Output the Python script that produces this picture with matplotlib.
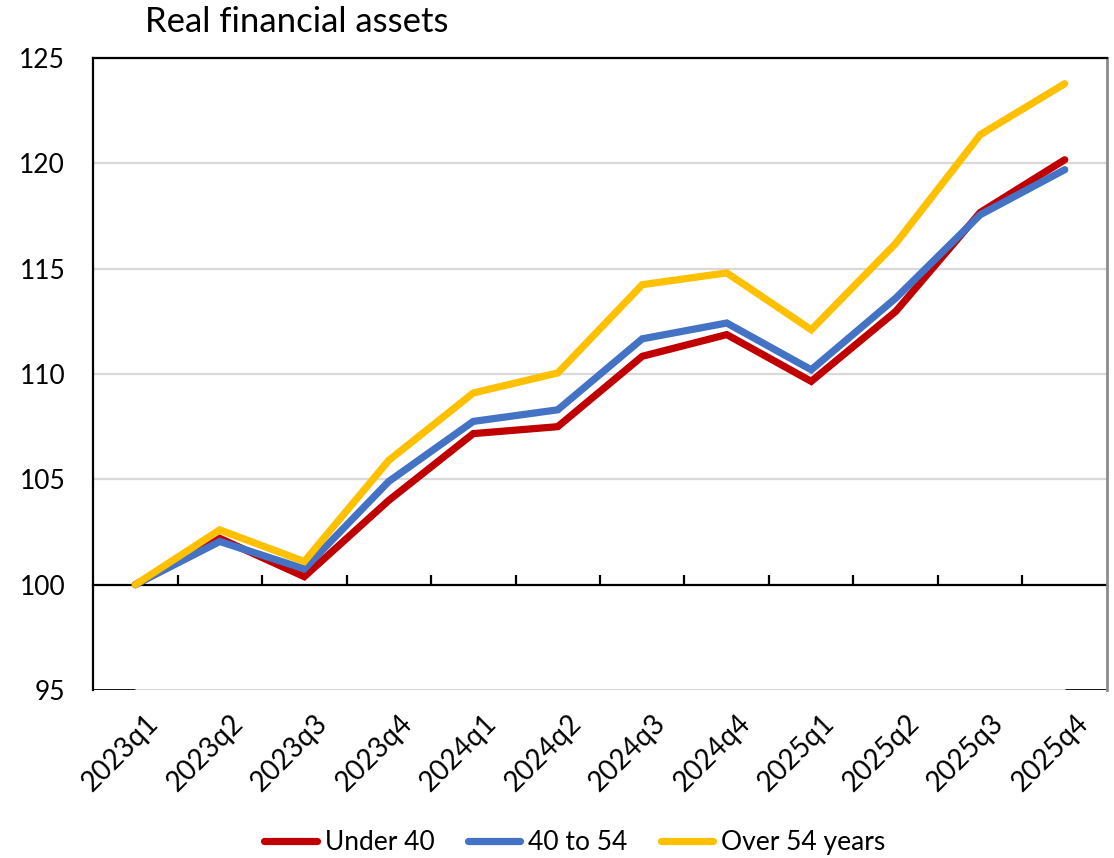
import numpy as np
import matplotlib
matplotlib.use("Agg")
import matplotlib.pyplot as plt
import matplotlib.transforms as mtransforms

plt.rcParams['font.family'] = ['Lato', 'DejaVu Sans']

# ---- data (index, 2023q1 = 100) ----
quarters = ['2023q1', '2023q2', '2023q3', '2023q4',
            '2024q1', '2024q2', '2024q3', '2024q4',
            '2025q1', '2025q2', '2025q3', '2025q4']
under_40 = [100.0, 102.2, 100.38, 104.0, 107.17, 107.5, 110.84, 111.87, 109.65, 112.97, 117.67, 120.17]
from_40_to_54 = [100.0, 102.05, 100.75, 104.9, 107.75, 108.3, 111.67, 112.42, 110.2, 113.6, 117.56, 119.7]
over_54 = [100.0, 102.6, 101.1, 105.9, 109.1, 110.05, 114.24, 114.8, 112.1, 116.2, 121.36, 123.78]
y_ticks = [95, 100, 105, 110, 115, 120, 125]

series = [
    ('Under 40', under_40, '#C00000'),
    ('40 to 54', from_40_to_54, '#4472C4'),
    ('Over 54 years', over_54, '#FFC000'),
]

fig = plt.figure(figsize=(11.14, 8.58), dpi=100)
ax = fig.add_axes([0.0835, 0.1958, 0.9102, 0.7366])

x = np.arange(len(quarters))
ax.set_xlim(-0.5, len(quarters) - 0.5)
ax.set_ylim(95, 125)

# gridlines (skip the 100 axis line)
for yv in y_ticks[2:]:
    ax.axhline(yv, color='#d9d9d9', linewidth=1.6, zorder=0)

# bottom edge: grey between first and last category, black at the ends
ax.hlines(95, 0, len(quarters) - 1, color='#c8c8c8', linewidth=1.8, zorder=1)
ax.hlines(95, -0.5, 0, color='black', linewidth=2.0, zorder=1)
ax.hlines(95, len(quarters) - 1, len(quarters) - 0.5, color='black', linewidth=2.0, zorder=1)

for name, vals, col in series:
    ax.plot(x, vals, color=col, linewidth=5.2, label=name,
            solid_capstyle='round', solid_joinstyle='miter', zorder=3)

# category axis crossing at 100
ax.spines['bottom'].set_position(('data', 100))
ax.spines['bottom'].set_linewidth(1.6)
ax.spines['bottom'].set_zorder(2)
ax.set_xticks(np.arange(0.5, len(quarters) - 0.5, 1.0))
ax.tick_params(axis='x', direction='in', length=7, width=1.6, labelbottom=False)

ax.spines['left'].set_linewidth(1.6)
ax.spines['top'].set_linewidth(1.6)
ax.spines['right'].set_color('#8c8c8c')
ax.spines['right'].set_linewidth(2.0)

ax.set_yticks(y_ticks)
ax.set_yticklabels([str(v) for v in y_ticks])
ax.tick_params(axis='y', length=0, pad=20, labelsize=19)

# rotated category labels at the bottom of the plot area
trans = mtransforms.blended_transform_factory(ax.transData, ax.transAxes)
offset = mtransforms.ScaledTranslation(0, -20 / 100, fig.dpi_scale_trans)
for i, q in enumerate(quarters):
    ax.text(i + 0.12, 0, q, transform=trans + offset, rotation=45,
            rotation_mode='anchor', ha='right', va='top', fontsize=20)

fig.text(145 / 1114, 1 - 22 / 858, 'Real financial assets', fontsize=25,
         ha='left', va='center')

fig.legend(loc='center', bbox_to_anchor=(0.516, 0.0175), ncol=3, frameon=False,
           fontsize=19, handlelength=2.0, handletextpad=0.3, columnspacing=1.25)

fig.savefig('out.png', dpi=100)
